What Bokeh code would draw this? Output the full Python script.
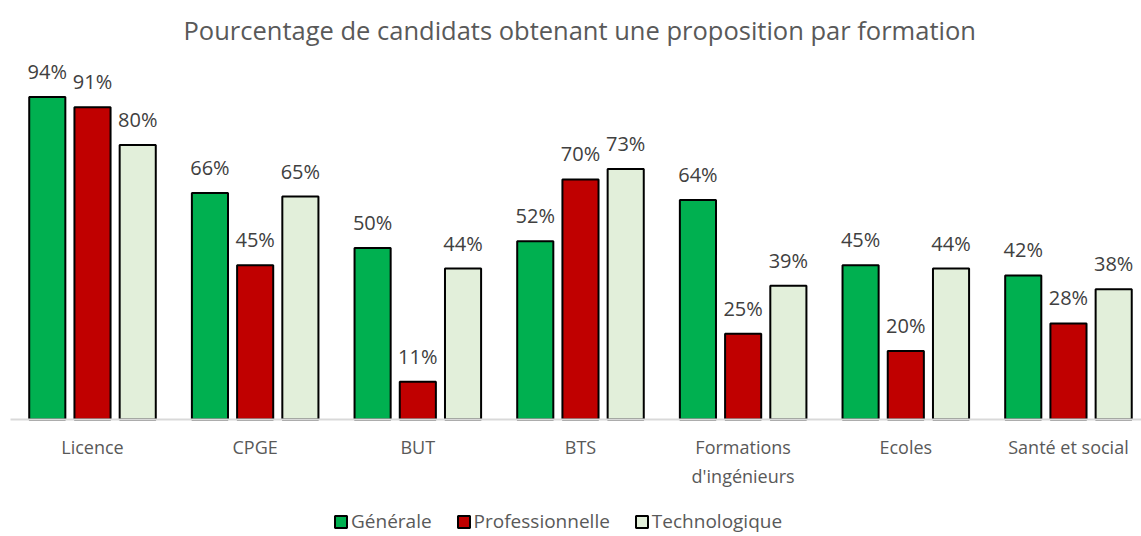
from bokeh.plotting import figure
from bokeh.models import ColumnDataSource, FixedTicker, Legend, LegendItem, Range1d, LabelSet
from bokeh.core.properties import value
from bokeh.embed import file_html
from bokeh.resources import INLINE

categories = ["Licence", "CPGE", "BUT", "BTS", "Formations\nd'ingénieurs", "Ecoles", "Santé et social"]
generale = [0.94, 0.66, 0.50, 0.52, 0.64, 0.45, 0.42]
professionnelle = [0.91, 0.45, 0.11, 0.70, 0.25, 0.20, 0.28]
technologique = [0.80, 0.65, 0.44, 0.73, 0.39, 0.44, 0.38]
series_names = ["Générale", "Professionnelle", "Technologique"]
colors = ["#00b050", "#c00000", "#e2efda"]

FONT = "Open Sans"
GREY = "#595959"

p = figure(width=1141, height=536, output_backend="svg", toolbar_location=None,
           x_range=Range1d(-0.5656, 6.449), y_range=Range1d(-0.3411, 1.0816),
           min_border_left=0, min_border_right=0, min_border_top=48, min_border_bottom=0,
           outline_line_color=None)
p.title.text = "Pourcentage de candidats obtenant une proposition par formation"
p.title.align = "left"
p.title.text_font = FONT
p.title.text_font_size = "25.5px"
p.title.text_font_style = "normal"
p.title.text_color = GREY
p.title.offset = 183
p.title.standoff = 4

p.xgrid.grid_line_color = None
p.ygrid.grid_line_color = None
p.yaxis.visible = False

xs = list(range(len(categories)))
offsets = [-0.278, 0.0, 0.278]
items = []
for vals, off, col, name in zip([generale, professionnelle, technologique], offsets, colors, series_names):
    src = ColumnDataSource(dict(x=[x + off for x in xs], top=vals,
                                lab=[f"{round(v*100)}%" for v in vals]))
    r = p.vbar(x="x", top="top", width=0.222, source=src, fill_color=col,
               line_color="black", line_width=2)
    items.append(LegendItem(label=name, renderers=[r]))
    labels = LabelSet(x="x", y="top", text="lab", source=src, text_align="center",
                      text_baseline="bottom", y_offset=12, text_font=value(FONT),
                      text_font_size="20px", text_color="#404040")
    p.add_layout(labels)

p.xaxis.fixed_location = 0
p.xaxis.bounds = (-0.504, 6.449)
p.xaxis.ticker = FixedTicker(ticks=xs)
p.xaxis.major_label_overrides = {i: c for i, c in enumerate(categories)}
p.xaxis.major_tick_line_color = None
p.xaxis.minor_tick_line_color = None
p.xaxis.axis_line_color = "#d9d9d9"
p.xaxis.axis_line_width = 2
p.xaxis.major_label_text_font = FONT
p.xaxis.major_label_text_font_size = "18px"
p.xaxis.major_label_text_color = GREY
p.xaxis.major_label_standoff = 10

legend = Legend(items=items, orientation="horizontal", location=(333, 2),
                label_text_font=FONT, label_text_font_size="19px", label_text_color=GREY,
                glyph_width=15, glyph_height=15, label_standoff=3, spacing=24,
                border_line_color=None, background_fill_alpha=0, padding=0, margin=0)
p.add_layout(legend, "center")

open("out.html", "w").write(file_html(p, INLINE))
